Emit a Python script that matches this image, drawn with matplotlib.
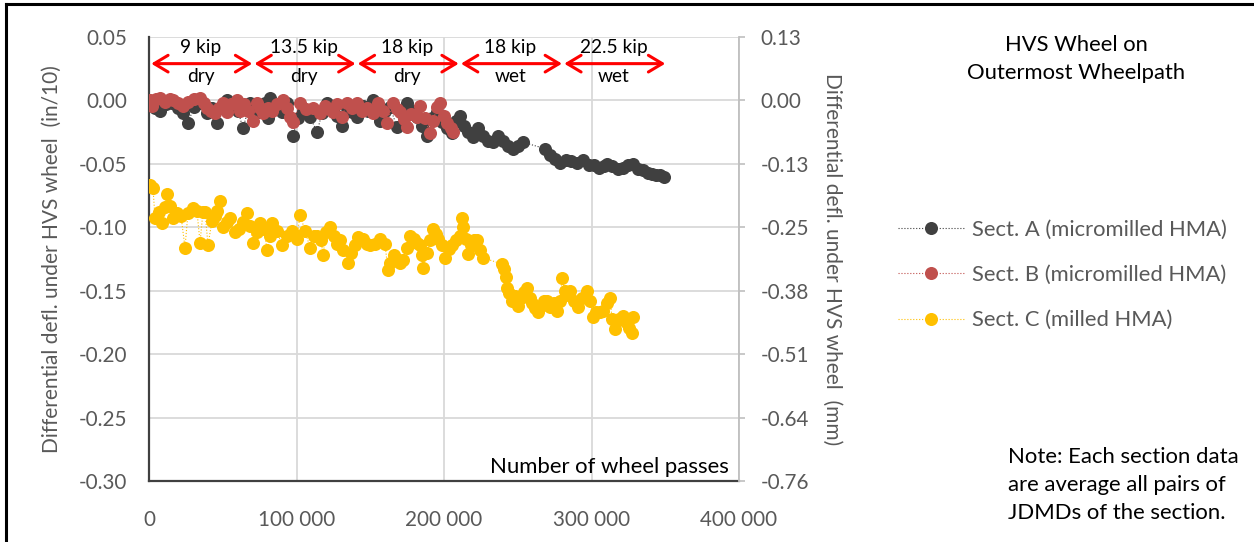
import matplotlib
matplotlib.use("Agg")
import matplotlib.pyplot as plt
from matplotlib.lines import Line2D

plt.rcParams['font.family'] = ['Lato', 'DejaVu Sans']

# Number of wheel passes (thousands) and differential deflection (in/10)
passes_a = [0.7, 4.1, 7.5, 11.5, 15.6, 19.7, 23.1, 26.4, 30.5, 34.6, 39.3, 42.7, 46.1, 49.5,
            52.9, 57.0, 60.3, 63.7, 68.5, 71.9, 75.3, 78.6, 80.7, 82.0, 86.1, 90.2, 93.6, 97.6,
            101.0, 104.4, 109.2, 113.9, 117.3, 120.7, 124.8, 127.5, 130.9, 134.2, 137.6, 141.0,
            145.1, 148.5, 151.9, 156.6, 160.0, 163.4, 168.1, 171.5, 174.9, 178.3, 181.7, 185.1,
            188.5, 191.9, 195.3, 198.7, 202.0, 205.4, 208.1, 210.9, 213.6, 216.3, 219.7, 223.1,
            226.5, 229.8, 233.2, 236.6, 240.0, 243.4, 246.8, 250.2, 253.6, 268.5, 271.9, 275.3,
            278.7, 282.7, 286.1, 290.2, 294.3, 298.3, 301.7, 305.1, 308.5, 310.5, 313.9, 318.0,
            321.4, 324.8, 328.2, 331.5, 334.9, 338.3, 341.0, 343.7, 346.5, 349.2]
defl_a = [-0.002, -0.006, -0.008, -0.003, -0.002, -0.006, -0.010, -0.018, -0.005, -0.002,
          -0.010, -0.006, -0.018, -0.006, 0.000, -0.003, -0.008, -0.022, -0.002, -0.006,
          -0.009, -0.002, -0.014, 0.002, -0.005, -0.009, -0.002, -0.028, -0.014, -0.008,
          -0.013, -0.025, -0.010, -0.002, -0.008, -0.012, -0.020, -0.006, -0.009, -0.013,
          -0.004, -0.008, 0.000, -0.016, -0.008, -0.005, -0.021, -0.009, -0.002, -0.008,
          -0.013, -0.020, -0.028, -0.014, -0.009, -0.017, -0.022, -0.026, -0.016, -0.012,
          -0.020, -0.025, -0.029, -0.022, -0.028, -0.032, -0.033, -0.028, -0.032, -0.036,
          -0.038, -0.036, -0.033, -0.038, -0.043, -0.046, -0.049, -0.047, -0.048, -0.049,
          -0.047, -0.051, -0.051, -0.053, -0.052, -0.050, -0.052, -0.054, -0.053, -0.051,
          -0.050, -0.054, -0.055, -0.057, -0.058, -0.059, -0.059, -0.060]

passes_b = [0.7, 2.0, 4.7, 7.5, 10.8, 14.2, 16.3, 19.7, 23.1, 26.4, 30.5, 34.6, 37.3, 39.3,
            42.0, 44.7, 47.5, 50.2, 52.9, 55.6, 59.7, 61.7, 64.4, 67.1, 70.5, 73.2, 75.3, 77.3,
            80.7, 83.4, 86.8, 90.9, 93.6, 95.6, 97.6, 102.4, 106.4, 111.2, 115.9, 119.3, 122.0,
            124.8, 127.5, 130.9, 134.2, 137.6, 141.0, 144.4, 147.8, 151.9, 155.3, 158.7, 161.4,
            165.4, 168.1, 170.2, 172.9, 174.9, 177.6, 181.7, 183.7, 187.1, 190.5, 192.6, 195.3,
            197.3, 200.0, 202.0, 204.8, 206.1]
defl_b = [0.000, -0.004, 0.001, 0.002, -0.001, 0.001, 0.000, -0.002, -0.004, -0.001, 0.001,
          0.002, -0.002, -0.006, -0.008, -0.010, -0.006, -0.002, -0.009, -0.003, 0.000, -0.008,
          -0.003, -0.008, -0.016, -0.002, -0.006, -0.010, -0.006, -0.008, -0.003, 0.000, -0.006,
          -0.013, -0.017, -0.002, -0.007, -0.006, -0.010, -0.004, -0.007, -0.009, -0.003,
          -0.013, -0.002, -0.006, -0.002, -0.008, -0.006, -0.010, -0.002, -0.008, -0.018,
          -0.002, -0.007, -0.009, -0.015, -0.021, -0.011, -0.013, -0.004, -0.014, -0.026,
          -0.016, -0.005, -0.002, -0.012, -0.018, -0.022, -0.025]

passes_c = [0.7, 2.7, 4.1, 6.8, 8.8, 10.8, 12.2, 14.2, 16.3, 19.0, 21.7, 24.4, 26.4, 29.8,
            32.5, 34.6, 36.6, 38.0, 40.0, 42.7, 44.7, 46.1, 48.1, 50.2, 52.9, 54.9, 58.3, 61.0,
            63.7, 66.4, 68.5, 70.5, 73.2, 75.3, 78.0, 80.0, 82.0, 83.4, 86.8, 90.2, 93.6, 97.0,
            99.0, 100.3, 102.4, 105.8, 109.2, 111.9, 113.9, 116.6, 118.0, 120.0, 122.7, 125.4,
            127.5, 129.5, 131.5, 134.9, 137.0, 139.7, 141.7, 145.1, 147.8, 149.8, 153.2, 156.6,
            160.0, 162.0, 163.4, 166.1, 168.1, 170.2, 172.2, 174.9, 177.0, 179.7, 181.7, 183.7,
            185.1, 185.8, 188.5, 190.5, 192.6, 194.6, 195.9, 198.7, 200.7, 203.4, 205.4, 208.1,
            210.9, 212.2, 212.9, 214.9, 216.3, 218.3, 220.4, 222.4, 224.4, 226.5, 239.3, 240.7,
            242.0, 242.7, 244.1, 246.1, 248.1, 250.2, 252.2, 254.3, 256.3, 258.3, 259.7, 261.7,
            263.7, 265.8, 267.8, 269.8, 271.9, 274.6, 276.6, 278.7, 280.0, 282.0, 284.1, 285.4,
            288.2, 290.9, 293.6, 297.0, 299.0, 301.0, 303.1, 305.8, 307.8, 310.5, 312.6, 313.9,
            316.0, 318.7, 321.4, 323.4, 325.4, 327.5, 328.2]
defl_c = [-0.067, -0.069, -0.093, -0.088, -0.097, -0.084, -0.074, -0.083, -0.093, -0.089,
          -0.091, -0.116, -0.089, -0.085, -0.087, -0.112, -0.088, -0.088, -0.114, -0.095,
          -0.091, -0.087, -0.079, -0.100, -0.096, -0.093, -0.104, -0.101, -0.096, -0.089,
          -0.099, -0.112, -0.104, -0.097, -0.101, -0.118, -0.107, -0.097, -0.103, -0.114,
          -0.107, -0.103, -0.106, -0.109, -0.090, -0.103, -0.116, -0.107, -0.107, -0.110,
          -0.122, -0.104, -0.100, -0.107, -0.113, -0.110, -0.118, -0.128, -0.120, -0.114,
          -0.108, -0.109, -0.113, -0.114, -0.113, -0.109, -0.113, -0.134, -0.128, -0.122,
          -0.125, -0.128, -0.126, -0.116, -0.107, -0.109, -0.112, -0.114, -0.122, -0.132,
          -0.120, -0.110, -0.101, -0.105, -0.109, -0.114, -0.124, -0.117, -0.114, -0.110,
          -0.107, -0.093, -0.100, -0.109, -0.121, -0.114, -0.110, -0.110, -0.118, -0.124,
          -0.129, -0.133, -0.139, -0.148, -0.152, -0.158, -0.154, -0.162, -0.156, -0.151,
          -0.148, -0.156, -0.160, -0.164, -0.167, -0.162, -0.158, -0.158, -0.163, -0.160,
          -0.166, -0.158, -0.140, -0.150, -0.153, -0.150, -0.158, -0.163, -0.156, -0.150,
          -0.158, -0.171, -0.167, -0.167, -0.166, -0.160, -0.156, -0.172, -0.180, -0.172,
          -0.170, -0.175, -0.179, -0.183, -0.171]

series_labels = ["Sect. A (micromilled HMA)", "Sect. B (micromilled HMA)", "Sect. C (milled HMA)"]
series_colors = ["#404040", "#C0504D", "#FFC000"]

# Loading stages: start / end (thousands of passes), wheel load and condition
stage_start = [0, 70, 140, 210, 280]
stage_end = [70, 140, 210, 280, 350]
stage_load = ["9 kip", "13.5 kip", "18 kip", "18 kip", "22.5 kip"]
stage_cond = ["dry", "dry", "dry", "wet", "wet"]

left_ticks = [0.05, 0.00, -0.05, -0.10, -0.15, -0.20, -0.25, -0.30]
right_tick_labels = ["0.13", "0.00", "-0.13", "-0.25", "-0.38", "-0.51", "-0.64", "-0.76"]
x_ticks = [0, 100000, 200000, 300000, 400000]
x_tick_labels = ["0", "100 000", "200 000", "300 000", "400 000"]

W, H = 1254, 542
fig = plt.figure(figsize=(W / 100, H / 100), dpi=100)
ax = fig.add_axes([149 / W, 1 - 481 / H, (739 - 149) / W, (481 - 37) / H])

tick_gray = "#595959"
grid_gray = "#D9D9D9"
tick_fs = 14.9
msize = 9.4

ax.set_xlim(0, 400000)
ax.set_ylim(-0.30, 0.05)
ax.set_xticks(x_ticks)
ax.set_xticklabels(x_tick_labels)
ax.set_yticks(left_ticks)
ax.set_yticklabels([f"{v:.2f}" for v in left_ticks])
ax.grid(True, color=grid_gray, lw=1.3)
ax.set_axisbelow(True)
ax.tick_params(axis='both', length=0, labelsize=tick_fs, colors=tick_gray)
ax.tick_params(axis='y', pad=16)
ax.tick_params(axis='x', pad=21)
for s in ["top", "right"]:
    ax.spines[s].set_visible(False)
for s in ["left", "bottom"]:
    ax.spines[s].set_color("#404040")
    ax.spines[s].set_linewidth(1.6)

for px, dv, col in zip([passes_a, passes_b, passes_c], [defl_a, defl_b, defl_c], series_colors):
    ax.plot([p * 1000 for p in px], dv, linestyle=':', lw=0.8, color=col,
            marker='o', markersize=msize, markeredgewidth=0, markerfacecolor=col, zorder=3)

ax.set_ylabel("Differential defl. under HVS wheel  (in/10)", fontsize=15, color=tick_gray,
              labelpad=12)

# Secondary axis in millimetres
ax2 = ax.twinx()
ax2.set_ylim(-0.30 * 2.54, 0.05 * 2.54)
ax2.set_yticks([v * 2.54 for v in left_ticks])
ax2.set_yticklabels(right_tick_labels)
ax2.tick_params(axis='y', length=4.5, width=1.2, labelsize=tick_fs, colors=tick_gray, pad=11)
ax2.tick_params(axis='y', color="#BFBFBF")
for s in ["top", "left", "bottom"]:
    ax2.spines[s].set_visible(False)
ax2.spines["right"].set_color("#BFBFBF")
ax2.spines["right"].set_linewidth(1.3)
ax2.set_ylabel("Differential defl. under HVS wheel  (mm)", fontsize=15, color=tick_gray,
               rotation=270, labelpad=24)

# Stage arrows and labels
for s0, s1, ld, cd in zip(stage_start, stage_end, stage_load, stage_cond):
    ax.annotate("", xy=(s1 * 1000, 0.029), xytext=(s0 * 1000 + 1500, 0.029),
                arrowprops=dict(arrowstyle="<->,head_length=1.0,head_width=0.6",
                                color="#FF0000", lw=2.2, shrinkA=0, shrinkB=0))
    xm = (s0 + s1) / 2 * 1000
    ax.text(xm, 0.0415, ld, ha="center", va="center", fontsize=13.8, color="black")
    ax.text(xm, 0.0185, cd, ha="center", va="center", fontsize=13.8, color="black")

ax.text(393000, -0.2935, "Number of wheel passes", ha="right", va="baseline",
        fontsize=15.9, color="black")

# Legend
handles = [Line2D([0], [0], color=c, lw=0.8, linestyle=':', marker='o', markersize=msize,
                  markeredgewidth=0, markerfacecolor=c) for c in series_colors]
fig.legend(handles, series_labels, loc="upper left", bbox_to_anchor=(878 / W, 1 - 200 / H),
           frameon=False, fontsize=15.8, labelcolor=tick_gray, handlelength=3.0,
           handletextpad=0.4, labelspacing=1.15)

fig.text(1076 / W, 1 - 59 / H, "HVS Wheel on\nOutermost Wheelpath", ha="center", va="center",
         fontsize=15.8, color="black", linespacing=1.5)
fig.text(1008 / W, 1 - 485 / H, "Note: Each section data\nare average all pairs of\nJDMDs of the section.",
         ha="left", va="center", fontsize=15.9, color="black", linespacing=1.5)

# Frame around the figure
fig.add_artist(Line2D([6 / W, 1], [1 - 4 / H, 1 - 4 / H], color="black", lw=2.2))
fig.add_artist(Line2D([6 / W, 6 / W], [0, 1 - 4 / H], color="black", lw=2.2))

fig.savefig("out.png", dpi=100)
